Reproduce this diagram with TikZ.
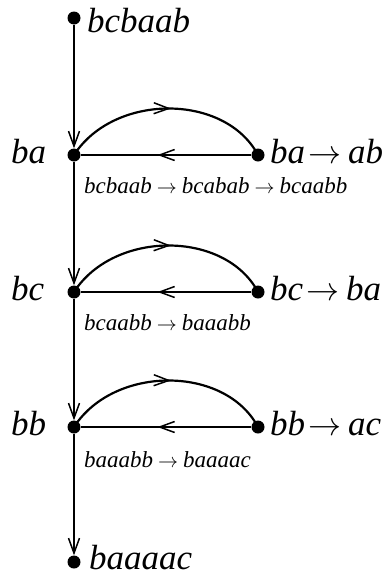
\documentclass[tikz,border=0pt]{standalone}
\usepackage{graphicx}
\usepackage{fontspec}
\setmainfont{Liberation Serif}
\usetikzlibrary{arrows.meta,decorations.markings}
\newcommand{\bigto}{{\normalsize\scalebox{3.3}{$\mathord{\to}$}}}
\newcommand{\smallto}{\hspace{5pt}{\normalsize\scalebox{2}{$\mathord{\to}$}}\hspace{5pt}}
\tikzset{
  vertex/.style={circle,fill=black,inner sep=0pt,minimum size=13pt},
  big/.style={font=\fontsize{35}{40}\selectfont\itshape,inner sep=0pt},
  small/.style={font=\fontsize{23}{27}\selectfont\itshape,inner sep=0pt},
  edge/.style={line width=2.2pt},
  barb/.tip={Straight Barb[length=15pt,width=11pt,line width=1.5pt]},
  midarrow/.style={decoration={markings,mark=at position #1 with {\arrow{barb}}},postaction={decorate}},
}
\begin{document}
\begin{tikzpicture}[x=1pt,y=-1pt]
        \useasboundingbox (0,0) rectangle (390,576);
        % Draw the vertices
        \node[vertex] (top) at (74,18) {};
        \node[vertex] (l1) at (74,155) {};
        \node[vertex] (r1) at (258,155) {};
        \node[vertex] (l2) at (74,292) {};
        \node[vertex] (r2) at (258,292) {};
        \node[vertex] (l3) at (74,427) {};
        \node[vertex] (r3) at (258,427) {};
        \node[vertex] (bot) at (74,562) {};

        % words and rules
        \node[big,anchor=base west] (wtop) at (87,32) {bcbaab};
        \node[big,anchor=base west] (wbot) at (89,569) {baaaac};
        \node[big,anchor=base west] (k1) at (11,163) {ba};
        \node[big,anchor=base west] (k2) at (11,300) {bc};
        \node[big,anchor=base west] (k3) at (11,435) {bb};
        \node[big,anchor=base west] (rule1) at (270,163) {ba\kern3pt\bigto\kern7pt ab};
        \node[big,anchor=base west] (rule2) at (270,300) {bc\kern3pt\bigto\kern7pt ba};
        \node[big,anchor=base west] (rule3) at (270,435) {bb\kern3pt\bigto\kern7pt ac};
        \node[small,anchor=base west] (s1) at (84,193) {bcbaab\smallto bcabab\smallto bcaabb};
        \node[small,anchor=base west] (s2) at (84,330) {bcaabb\smallto baaabb};
        \node[small,anchor=base west] (s3) at (84,467) {baaabb\smallto baaaac};

        % Draw the edges
        \draw[edge,-barb] (top) -- (l1);
        \draw[edge,-barb] (l1) -- (l2);
        \draw[edge,-barb] (l2) -- (l3);
        \draw[edge,-barb] (l3) -- (bot);

        % Draw the loops
        \draw[edge,midarrow=0.55] (r1) -- (l1);
        \draw[edge,midarrow=0.52] (l1.center) .. controls +(40,-62) and +(-33,-62) .. (r1.center);
        \draw[edge,midarrow=0.55] (r2) -- (l2);
        \draw[edge,midarrow=0.52] (l2.center) .. controls +(40,-62) and +(-33,-62) .. (r2.center);
        \draw[edge,midarrow=0.55] (r3) -- (l3);
        \draw[edge,midarrow=0.52] (l3.center) .. controls +(40,-62) and +(-33,-62) .. (r3.center);
    \end{tikzpicture}
\end{document}
